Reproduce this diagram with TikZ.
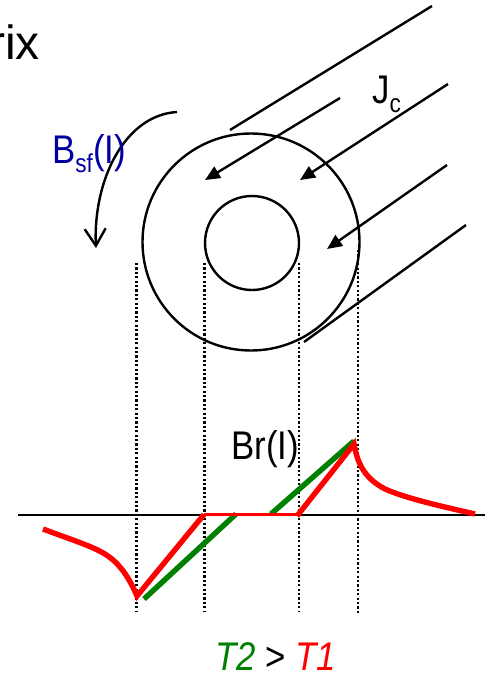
\documentclass[tikz,border=0pt]{standalone}
\usepackage{fontspec}
\setmainfont[FakeStretch=0.87]{Liberation Sans}
\newfontfamily\widefont{Liberation Sans}
\usetikzlibrary{arrows.meta}
\definecolor{bluetxt}{RGB}{0,0,160}
\definecolor{greenc}{RGB}{0,128,0}
\begin{document}
\begin{tikzpicture}[x=1pt,y=-1pt,
  line/.style={line width=2.4pt,black},
  fluxarrow/.style={line width=2.4pt,-{Triangle[length=15pt,width=13pt]}},
  dots/.style={line width=2.4pt,dash pattern=on 2.2pt off 2.2pt},
  redcurve/.style={red,line width=5.4pt},
  greenline/.style={greenc,line width=5.4pt},
  lab/.style={inner sep=0pt,font=\fontsize{40}{48}\selectfont}]
\useasboundingbox (0,0) rectangle (485,675);
\node[inner sep=0pt,anchor=base west,font=\widefont\fontsize{48}{54}\selectfont] (rix) at (-11,59.5) {rix};
% circles
\node[draw,circle,line width=2.4pt,minimum size=217pt,inner sep=0pt] (outer) at (251,242) {};
\node[draw,circle,line width=2.4pt,minimum size=94pt,inner sep=0pt] (inner) at (252,243) {};
% tangents
\coordinate (t1a) at (230,130); \coordinate (t1b) at (432,6);
\coordinate (t2a) at (304,342); \coordinate (t2b) at (466,225);
\draw[line] (t1a) -- (t1b);
\draw[line] (t2a) -- (t2b);
% arrows
\coordinate (a1s) at (340,98); \coordinate (a1e) at (205,180);
\coordinate (a2s) at (448,84); \coordinate (a2e) at (300,180);
\coordinate (a3s) at (447,165); \coordinate (a3e) at (327,249);
\draw[fluxarrow] (a1s) -- (a1e);
\draw[fluxarrow] (a2s) -- (a2e);
\draw[fluxarrow] (a3s) -- (a3e);
% bsf arrow
\coordinate (cs) at (177,112); \coordinate (ce) at (96,248);
\draw[line,-{Straight Barb[length=17pt,width=21pt,line width=2.4pt]}] (cs) .. controls (125,115) and (93,180) .. (ce);
% dotted
\foreach \n/\x/\a/\b in {d1/136.5/263/612,d2/204.5/263/612,d3/299/263/612,d4/358/250/615}{
  \coordinate (\n a) at (\x,\a); \coordinate (\n b) at (\x,\b);
  \draw[dots] (\n a) -- (\n b);
}
% axis
\coordinate (axl) at (18,515); \coordinate (axr) at (485,515);
\draw[line] (axl) -- (axr);
% green
\coordinate (g1) at (144,599); \coordinate (g2) at (236,514);
\coordinate (g3) at (271,514); \coordinate (g4) at (354,441);
\draw[greenline] (g1) -- (g2);
\draw[greenline] (g3) -- (g4);
% red
\draw[redcurve,line join=miter] (43,529) .. controls (75,541) and (95,547) .. (108,556) .. controls (122,566) and (130,580) .. (137,596)
  -- (204,514.5);
\draw[red,line width=2.8pt] (204,514.5) -- (297,514.5);
\draw[redcurve,line join=miter] (297,516) -- (354,444) .. controls (357,460) and (362,477) .. (385,489) .. controls (405,498) and (440,506) .. (475,514);
% labels
\node[lab,anchor=base west] (jc) at (372,103) {J\raisebox{-9pt}{\fontsize{26}{30}\selectfont c}};
\node[lab,anchor=base west,text=bluetxt] (bsf) at (52,163) {B\raisebox{-9pt}{\fontsize{26}{30}\selectfont sf}(I)};
\node[lab,anchor=base west] (br) at (231,459) {Br(I)};
\node[lab,anchor=base west] (tt) at (215,670) {\textcolor{greenc}{\itshape T2} > \textcolor{red}{\itshape T1}};
\end{tikzpicture}
\end{document}
